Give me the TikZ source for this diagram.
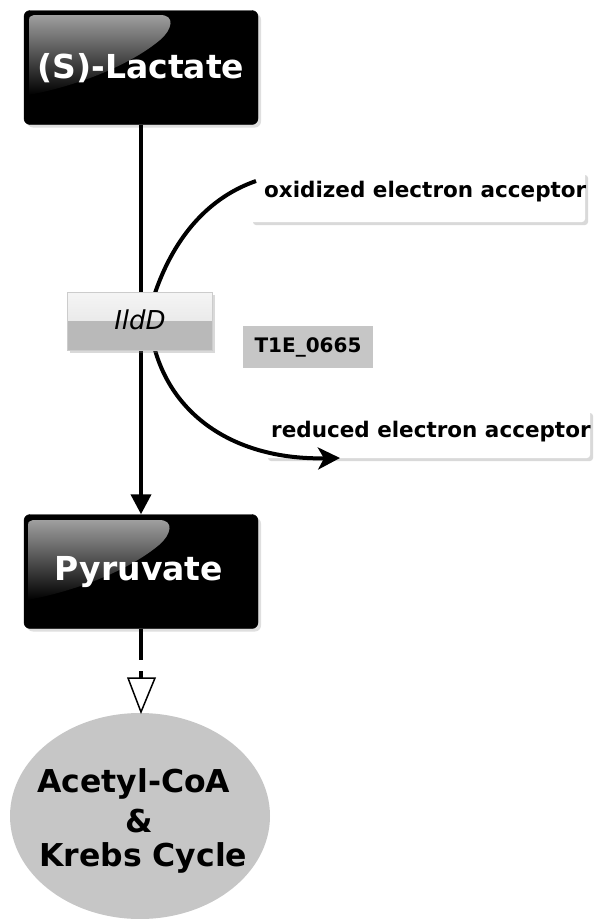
\documentclass[tikz,border=0pt]{standalone}
\usepackage{fontspec}
\setmainfont{DejaVu Sans}
\usetikzlibrary{arrows.meta,shadows,shapes.geometric}
\tikzset{
  blackbox/.style={draw=black, fill=black, rounded corners=6pt, minimum width=234pt, minimum height=114pt,
     drop shadow={shadow xshift=3pt, shadow yshift=-3pt, opacity=0.25, fill=gray}},
  boxtext/.style={text=white, font=\bfseries\fontsize{33}{38}\selectfont},
  labelbox/.style={fill=white, rounded corners=3pt, drop shadow={shadow xshift=3pt, shadow yshift=-3pt, opacity=0.3, fill=gray}, inner sep=0pt},
  labeltext/.style={font=\bfseries\fontsize{21.5}{25}\selectfont, anchor=west, inner sep=0pt},
  krebstext/.style={font=\bfseries\fontsize{31.5}{36}\selectfont, inner sep=0pt},
  conn/.style={line width=4pt},
  gloss/.style={top color=gray!75, bottom color=black, draw=none},
}
\begin{document}
\begin{tikzpicture}[x=1pt,y=-1pt]
\useasboundingbox (0,0) rectangle (600,919);
% boxes
\node[blackbox] (lac) at (141,67.5) {};
\fill[gloss] (34,15) -- (160,15) .. controls (176,15) and (172,30) .. (160,40) .. controls (130,65) and (80,85) .. (29,95) -- (29,20) .. controls (29,17) .. (34,15) -- cycle;
\node[boxtext] (lact) at (141,68) {(S)-Lactate};

\node[blackbox] (pyr) at (141,571.5) {};
\fill[gloss] (33,520) -- (159,520) .. controls (175,520) and (171,535) .. (159,545) .. controls (129,570) and (79,590) .. (28,600) -- (28,525) .. controls (28,522) .. (33,520) -- cycle;
\node[boxtext] (pyrt) at (139,572) {Pyruvate};

% main connectors
\draw[conn] (lac.south) -- (141,293) coordinate (ildtop);
\draw[conn, -{Triangle[length=20pt,width=20pt]}] (141,350) coordinate (ildbot) -- (pyr.north);

% side reactants
\node[labelbox, minimum width=335pt, minimum height=50pt] (ox) at (417.5,197) {};
\node[labeltext] (oxt) at (264,192) {oxidized electron acceptor};
\node[labelbox, minimum width=325pt, minimum height=48pt] (red) at (427.5,434) {};
\node[labeltext] (redt) at (271,432) {reduced electron acceptor};
\coordinate (oxend) at (256,181);
\coordinate (redend) at (340,458);
\draw[conn] (155,293) .. controls (175,235) and (210,197) .. (oxend);
\draw[conn, -{Stealth[length=22pt,width=22pt,inset=6pt]}] (155,350) .. controls (175,420) and (240,460) .. (redend);

% enzyme
\node[draw=gray!40, line width=1pt, minimum width=145pt, minimum height=58pt, inner sep=0pt,
  drop shadow={shadow xshift=3pt, shadow yshift=-3pt, opacity=0.3, fill=gray},
  path picture={
    \fill[top color=gray!8, bottom color=gray!25] (path picture bounding box.north west) rectangle ([yshift=1pt]path picture bounding box.east);
    \fill[gray!55] (path picture bounding box.west) rectangle (path picture bounding box.south east);
  }] (ild) at (139.5,321) {};
\node[font=\itshape\fontsize{26}{30}\selectfont] (ildt) at (140,320) {IldD};

\node[fill=gray!45, minimum width=130pt, minimum height=42pt, font=\bfseries\fontsize{20}{24}\selectfont] (gene) at (308,347) {T1E\_0665};

% to Krebs
\node[ellipse, fill=gray!45, minimum width=260pt, minimum height=206pt, inner sep=0pt] (kre) at (140,816) {};
\draw[conn] (pyr.south) -- (141,660);
\draw[conn] (141,671) -- (141,678);
\draw[line width=1.5pt, fill=white] (128,678) -- (155,678) -- (141,712) -- cycle;
\node[krebstext, anchor=west] at (37,784) {Acetyl-CoA};
\node[krebstext] at (139,821) {\&};
\node[krebstext, anchor=west] at (39,858) {Krebs Cycle};
\end{tikzpicture}
\end{document}
